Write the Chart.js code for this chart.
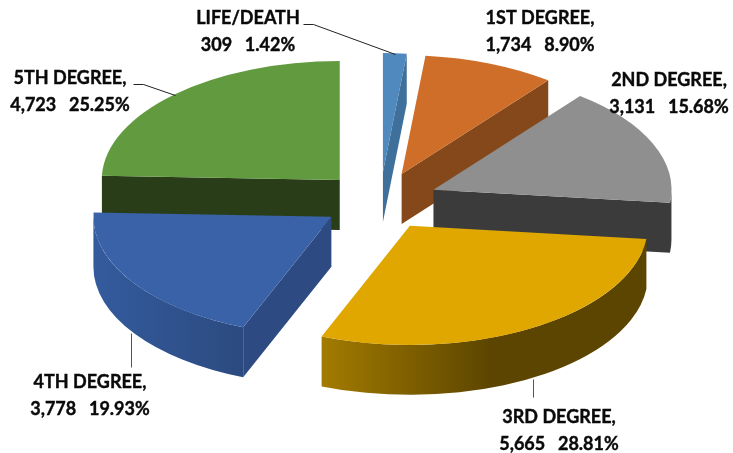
<!DOCTYPE html>
<html>
<head>
<meta charset="utf-8">
<style>
  html, body { margin: 0; padding: 0; background: #fff; }
  #wrap { position: relative; width: 733px; height: 453px; }
</style>
<script src="https://cdn.jsdelivr.net/npm/chart.js@4"></script>
</head>
<body>
<div id="wrap"><canvas id="myChart" width="733" height="453"></canvas></div>
<script>
// the data
const categories = ["LIFE/DEATH", "1ST DEGREE", "2ND DEGREE", "3RD DEGREE", "4TH DEGREE", "5TH DEGREE"];
const counts = [309, 1734, 3131, 5665, 3778, 4723];
const countLabels = ["309", "1,734", "3,131", "5,665", "3,778", "4,723"];
const percentLabels = ["1.42%", "8.90%", "15.68%", "28.81%", "19.93%", "25.25%"];

// colours, top face and side walls
const topColors = ["#4f89bd", "#cf6e29", "#8f8f8f", "#dfa700", "#3a62a8", "#619a3f"];
const edgeColors = ["#3f6f9b", "#85481a", "#3b3b3b", "#5c4500", "#2d4b82", "#293d18"];
const rimColors = [
  ["#3f6f9b", "#3f6f9b"],
  ["#85481a", "#85481a"],
  ["#3b3b3b", "#3b3b3b"],
  ["#a37b00", "#5c4500"],
  ["#345b9d", "#2b4a80"],
  ["#293d18", "#293d18"]
];
// where the rim gradient reaches its dark colour, 0..1 across the slice
const rimStops = [1, 1, 1, 0.52, 1, 1];

// label layout: center x, first line y, second line y
const labelX = [248, 540, 669, 559, 90, 70];
const labelY = [18, 18, 80, 417, 382, 78];
const lineGap = 27;
const leaders = [
  { color: "#222", pts: [[303, 24], [313, 24], [395, 54]] },
  null,
  null,
  { color: "#555", pts: [[533, 379], [533, 397]] },
  { color: "#555", pts: [[131, 333], [131, 367]] },
  { color: "#222", pts: [[133, 84], [143, 84], [175, 95]] }
];

const squash = 0.5;
const depth = 50;
const pieY = 201;
const explode = 58; // ArcElement's own offset also grows thin slices, so slices are moved here

// tilts the pie and puts the thick side walls under it
const tiltPlugin = {
  id: "tilt",
  beforeDatasetsDraw(chart) {
    const c = chart.ctx;
    const arcs = chart.getDatasetMeta(0).data;
    // back slices first
    [5, 0, 1, 2, 4, 3].forEach(i => {
      const a = arcs[i];
      const mid = (a.startAngle + a.endAngle) / 2;
      const x = a.x + Math.cos(mid) * explode;
      const y = pieY + Math.sin(mid) * explode * squash;
      const r = a.outerRadius;
      const ry = r * squash;
      const pt = ang => [x + Math.cos(ang) * r, y + Math.sin(ang) * ry];

      // flat cut faces, only those turned to the viewer
      const cut = ang => {
        const p = pt(ang);
        c.beginPath();
        c.moveTo(x, y);
        c.lineTo(p[0], p[1]);
        c.lineTo(p[0], p[1] + depth);
        c.lineTo(x, y + depth);
        c.closePath();
        c.fillStyle = edgeColors[i];
        c.fill();
      };
      if (Math.cos(a.startAngle) < 0) cut(a.startAngle);
      if (Math.cos(a.endAngle) > 0) cut(a.endAngle);

      // round outer wall, lower half of the ellipse only
      const norm = ang => Math.atan2(Math.sin(ang), Math.cos(ang));
      const s = norm(a.startAngle);
      const e = s + (a.endAngle - a.startAngle);
      const lo = Math.max(s, 0);
      const hi = Math.min(e, Math.PI);
      if (hi > lo) {
        const p0 = [x + Math.cos(lo) * r, y + Math.sin(lo) * ry];
        const p1 = [x + Math.cos(hi) * r, y + Math.sin(hi) * ry];
        const grad = c.createLinearGradient(p1[0], 0, p0[0], 0);
        grad.addColorStop(0, rimColors[i][0]);
        grad.addColorStop(rimStops[i], rimColors[i][1]);
        if (rimStops[i] < 1) grad.addColorStop(1, rimColors[i][1]);
        c.beginPath();
        c.ellipse(x, y, r, ry, 0, lo, hi);
        c.lineTo(p1[0], p1[1] + depth);
        c.ellipse(x, y + depth, r, ry, 0, hi, lo, true);
        c.closePath();
        c.fillStyle = grad;
        c.fill();
      }
    });

    // shift the arcs for the library's draw, put back afterwards
    arcs.forEach(a => {
      const mid = (a.startAngle + a.endAngle) / 2;
      a.x += Math.cos(mid) * explode;
      a.y += Math.sin(mid) * explode;
    });
    c.save();
    c.translate(0, pieY);
    c.scale(1, squash);
    c.translate(0, -pieY);
  },
  afterDatasetsDraw(chart) {
    chart.ctx.restore();
    chart.getDatasetMeta(0).data.forEach(a => {
      const mid = (a.startAngle + a.endAngle) / 2;
      a.x -= Math.cos(mid) * explode;
      a.y -= Math.sin(mid) * explode;
    });
  },
  afterDraw(chart) {
    const c = chart.ctx;
    c.save();
    leaders.forEach(l => {
      if (!l) return;
      c.beginPath();
      l.pts.forEach((p, k) => (k ? c.lineTo(p[0] + 0.5, p[1] + 0.5) : c.moveTo(p[0] + 0.5, p[1] + 0.5)));
      c.strokeStyle = l.color;
      c.lineWidth = 1;
      c.stroke();
    });
    c.fillStyle = "#0a0a0a";
    c.strokeStyle = "#0a0a0a";
    c.lineWidth = 0.4;
    c.font = "bold 18px Lato";
    c.textAlign = "center";
    c.textBaseline = "middle";
    categories.forEach((name, i) => {
      const first = i === 0 ? name : name + ",";
      const second = countLabels[i] + "  " + percentLabels[i];
      c.wordSpacing = "0px";
      c.fillText(first, labelX[i], labelY[i]);
      c.strokeText(first, labelX[i], labelY[i]);
      c.wordSpacing = "2px";
      c.fillText(second, labelX[i], labelY[i] + lineGap);
      c.strokeText(second, labelX[i], labelY[i] + lineGap);
    });
    c.restore();
  }
};

const ctx = document.getElementById("myChart").getContext("2d");
new Chart(ctx, {
  type: "pie",
  data: {
    labels: categories,
    datasets: [
      {
        data: counts,
        backgroundColor: topColors,
        borderWidth: 0,
        clip: false
      }
    ]
  },
  options: {
    responsive: false,
    animation: false,
    radius: 238,
    layout: { padding: { left: 27, bottom: 51 } },
    plugins: {
      legend: { display: false },
      tooltip: { enabled: false }
    }
  },
  plugins: [tiltPlugin]
});
</script>
</body>
</html>
